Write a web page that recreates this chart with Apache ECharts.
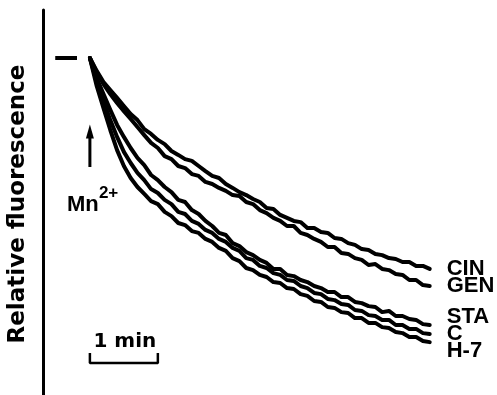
<!DOCTYPE html>
<html><head><meta charset="utf-8">
<script src="https://cdn.jsdelivr.net/npm/echarts@6/dist/echarts.min.js"></script>
<style>html,body{margin:0;padding:0;background:#fff}#c{width:497px;height:395px}</style>
</head><body><div id="c"></div>
<script>
// time after Mn2+ addition (min)
const timeMin = [0,0.1,0.2,0.3,0.4,0.5,0.6,0.7,0.8,0.9,1.0,1.1,1.2,1.3,1.4,1.5,1.6,1.7,1.8,1.9,2.0,2.1,2.2,2.3,2.4,2.5,2.6,2.7,2.8,2.9,3.0,3.1,3.2,3.3,3.4,3.5,3.6,3.7,3.8,3.9,4.0,4.1,4.2,4.3,4.4,4.5,4.6,4.7,4.8,4.9,5.0];
const seriesNames = ['CIN','GEN','STA','C','H-7'];
// relative fluorescence (baseline = 100)
const cin = [100,95.7,92,89.3,86.7,84,81.3,79.3,76.3,74.7,72.7,71.3,69,67.7,66.3,65.7,64,62.3,60.7,60,58,56.7,55.3,54.3,53,52,50,49.7,47.7,46.7,45.7,45.3,43.3,43.3,42,41.7,40,39.7,38.3,37.7,36.3,36,34.7,34.3,33.3,33,32,32,30.7,30.7,29.7];
const gen = [100,95.3,91.3,88,85,82.3,79.7,77,74.3,71.7,70,67.3,66.3,64,63.3,61.3,60.7,58.7,58,56.7,55.7,54.3,54,52,51.3,49.3,48.3,46.7,45.7,44,44,41.7,41,39.7,38.7,37,37,35,34.7,33.3,32.7,31,31.3,29.7,29.3,28,27.7,26,26,24.3,24];
const sta = [100,93.3,88,82.7,77.7,73.7,70,66.7,64.3,61,59.3,57,55.3,52.7,52,49.3,48,45.7,44,41.7,41,38.3,37.3,35.3,34.3,32.7,31.7,29.7,29.7,27.7,27.3,26,25.3,24,23.3,22,22,20.3,20.3,18.7,18.3,17.3,17,15.3,15.7,14,14,13,12.7,11.3,11];
const ctl = [100,92,85.7,79.3,73.7,68.7,65,61.7,59.3,56.3,55,52.7,51.3,48.7,48,45.7,44.7,42.7,41.7,39.7,38.7,36.7,35.7,33.3,32.7,30.7,30,28.3,27.7,26,25.7,24,23.3,21.7,21.3,19.7,19.3,18,17.7,16,15.7,14.3,14,12.7,12.7,11,11,9.7,9.7,8.3,8];
const h7 = [100,90.7,83.3,76,69.3,64,60,57,54.7,52.3,51.3,48.7,47.3,45,44.3,42.3,41.7,39.7,38.7,36.7,35.7,33.3,32.3,30,29.3,27.7,27,25.3,25,23.3,23,21.3,20.7,19,18.7,17,16.7,15.3,15,13.3,13.3,11.7,11.7,10.3,10,8.7,8.3,7,7,5.7,5.3];
// pre-addition baseline
const baselineX = [-0.51, -0.19];
const baselineY = [100, 100];
// Mn2+ addition arrow
const arrowX = [0, 0];
const arrowY = [63.7, 75.5];
// 1 min scale bar
const scaleBarX = [0, 0, 1, 1];
const scaleBarY = [1.7, -1.7, -1.7, 1.7];
const yTitle = 'Relative fluorescence';
const scaleText = '1 min';

const valueSets = [cin, gen, sta, ctl, h7];
const labelDy = [0, 0, -8, 0, 9];

const chart = echarts.init(document.getElementById('c'), null, {renderer:'canvas'});
const zip = (xs, ys) => xs.map((x, i) => [x, ys[i]]);

const series = seriesNames.map((n, k) => ({
  name: n, type: 'line', data: zip(timeMin, valueSets[k]),
  showSymbol: false, symbol: 'none', silent: true,
  lineStyle: {color: '#000', width: 4, join: 'round', cap: 'round'},
  endLabel: {show: true, formatter: n, distance: 0, offset: [17, labelDy[k]],
    color: '#000', fontFamily: 'Liberation Sans', fontWeight: 'bold', fontSize: 22},
  z: 3
}));
series.push({type:'line', data: zip(baselineX, baselineY), symbol:'none', silent:true,
  lineStyle:{color:'#000', width:4}});
series.push({type:'line', silent:true, symbol:'none', showSymbol:true, showAllSymbol:true,
  data: [[arrowX[0], arrowY[0]],
         {value:[arrowX[1], arrowY[1]], symbol:'triangle', symbolSize:[8,14], itemStyle:{color:'#000'}}],
  itemStyle:{color:'#000'}, lineStyle:{color:'#000', width:3}});
series.push({type:'line', data: zip(scaleBarX, scaleBarY), symbol:'none', silent:true,
  lineStyle:{color:'#000', width:2.5}});

chart.setOption({
  animation: false,
  backgroundColor: '#fff',
  grid: {left: 43, right: 0, top: 10, bottom: 0, containLabel: false},
  xAxis: {type:'value', min:-0.69, max:5.99, show:false},
  yAxis: {type:'value', min:-12.33, max:116,
    axisLine:{show:true, onZero:false, lineStyle:{color:'#000', width:3}},
    axisTick:{show:false}, axisLabel:{show:false}, splitLine:{show:false}},
  series: series
});

const pBar = chart.convertToPixel({gridIndex:0}, [0.5, scaleBarY[0]]);
const pArrow = chart.convertToPixel({gridIndex:0}, [arrowX[0], arrowY[0]]);
chart.setOption({
  graphic: [
    {type:'text', x: 18.5, y: 204, rotation: Math.PI/2,
      style:{text: yTitle, fill:'#000', font:'bold 23px "DejaVu Sans"', align:'center', verticalAlign:'middle', textAlign:'center', textVerticalAlign:'middle'}},
    {type:'text', x: pBar[0] + 1, y: pBar[1] - 11,
      style:{text: scaleText, fill:'#000', font:'bold 20px "DejaVu Sans"', align:'center', verticalAlign:'middle', textAlign:'center', textVerticalAlign:'middle'}},
    {type:'text', x: pArrow[0] - 23, y: pArrow[1] + 38,
      style:{text: 'Mn', fill:'#000', font:'bold 22px "Liberation Sans"', align:'left', verticalAlign:'middle', textAlign:'left', textVerticalAlign:'middle'}},
    {type:'text', x: pArrow[0] + 9, y: pArrow[1] + 26,
      style:{text: '2+', fill:'#000', font:'bold 17px "Liberation Sans"', align:'left', verticalAlign:'middle', textAlign:'left', textVerticalAlign:'middle'}}
  ]
});
</script></body></html>
